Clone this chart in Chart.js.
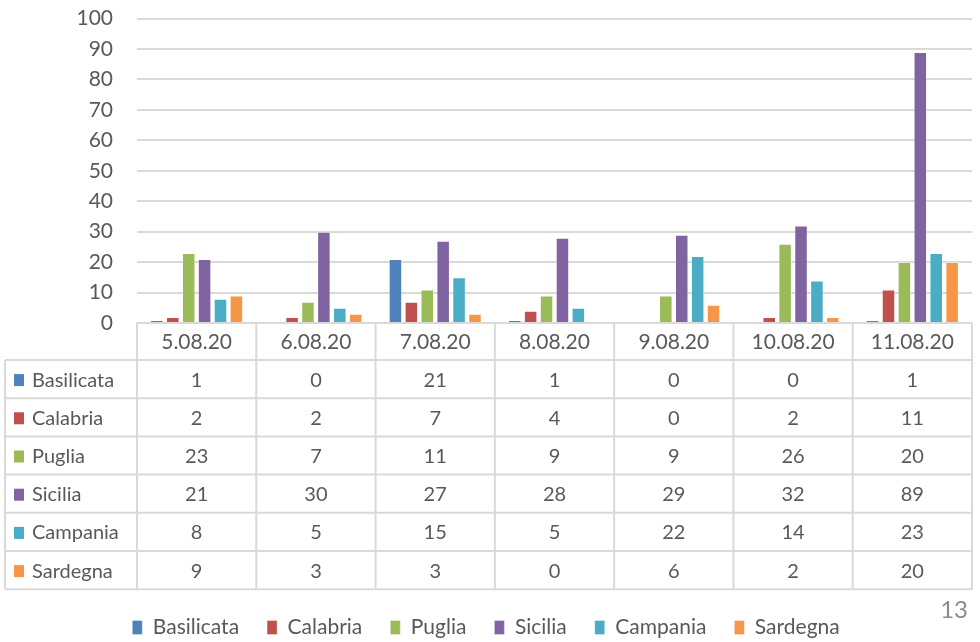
<!DOCTYPE html>
<html>
<head>
<meta charset="utf-8">
<script src="https://cdn.jsdelivr.net/npm/chart.js@4.4.1/dist/chart.umd.min.js"></script>
<style>
  html, body { margin: 0; padding: 0; background: #fff; }
  #wrap { position: relative; width: 980px; height: 642px; }
  #pageNum { position: absolute; right: 12px; top: 594px; font: 24px Lato, sans-serif; color: #8c8c8c; }
</style>
</head>
<body>
<div id="wrap">
  <canvas id="chart" width="980" height="642"></canvas>
  <div id="pageNum">13</div>
</div>
<script>
/* ===== DATA ===== */
const dates      = ['5.08.20', '6.08.20', '7.08.20', '8.08.20', '9.08.20', '10.08.20', '11.08.20'];
const regions    = ['Basilicata', 'Calabria', 'Puglia', 'Sicilia', 'Campania', 'Sardegna'];
const basilicata = [1, 0, 21, 1, 0, 0, 1];
const calabria   = [2, 2, 7, 4, 0, 2, 11];
const puglia     = [23, 7, 11, 9, 9, 26, 20];
const sicilia    = [21, 30, 27, 28, 29, 32, 89];
const campania   = [8, 5, 15, 5, 22, 14, 23];
const sardegna   = [9, 3, 3, 0, 6, 2, 20];
const colors     = ['#4F81BD', '#C0504D', '#9BBB59', '#8064A2', '#4BACC6', '#F79646'];

const series = [basilicata, calabria, puglia, sicilia, campania, sardegna];
const FONT = 'Lato, "Open Sans", sans-serif';
const TEXT = '#595959';
const LINE = '#D9D9D9';

/* ===== DATA TABLE UNDER THE AXIS ===== */
const tablePlugin = {
  id: 'dataTable',
  afterDraw(chart) {
    const { ctx, chartArea, scales: { x } } = chart;
    const top = chartArea.bottom;
    const headH = 37, rowH = 38.2;
    const left = 5, right = chartArea.right;
    const bottom = top + headH + rowH * regions.length;
    const colW = (chartArea.right - chartArea.left) / dates.length;

    ctx.save();
    ctx.strokeStyle = LINE;
    ctx.lineWidth = 2;
    ctx.beginPath();
    // horizontal lines
    ctx.moveTo(chartArea.left, top); ctx.lineTo(right, top);
    for (let r = 0; r <= regions.length; r++) {
      const y = top + headH + r * rowH;
      ctx.moveTo(left, y); ctx.lineTo(right, y);
    }
    // vertical lines
    ctx.moveTo(left, top + headH); ctx.lineTo(left, bottom);
    for (let c = 0; c <= dates.length; c++) {
      const xx = chartArea.left + c * colW;
      ctx.moveTo(xx, top); ctx.lineTo(xx, bottom);
    }
    ctx.stroke();

    ctx.fillStyle = TEXT;
    ctx.textBaseline = 'middle';
    ctx.textAlign = 'center';
    ctx.font = '21px ' + FONT;
    dates.forEach((d, i) => ctx.fillText(d, x.getPixelForValue(i), top + headH / 2 + 1));

    ctx.font = '20px ' + FONT;
    regions.forEach((name, r) => {
      const cy = top + headH + r * rowH + rowH / 2 + 1;
      ctx.fillStyle = colors[r];
      ctx.fillRect(14, cy - 6, 10, 12);
      ctx.fillStyle = TEXT;
      ctx.textAlign = 'left';
      ctx.fillText(name, 32, cy);
      ctx.textAlign = 'center';
      series[r].forEach((v, i) => ctx.fillText(String(v), x.getPixelForValue(i), cy));
    });
    ctx.restore();
  }
};

/* ===== CHART ===== */
new Chart(document.getElementById('chart'), {
  type: 'bar',
  data: {
    labels: dates,
    datasets: regions.map((name, i) => ({
      label: name,
      data: series[i],
      backgroundColor: colors[i],
      borderColor: 'rgba(255,255,255,0.35)',
      borderWidth: 1,
      barPercentage: 0.85,
      categoryPercentage: 0.8
    }))
  },
  options: {
    responsive: false,
    animation: false,
    layout: { padding: { top: 0, right: 8, left: 0, bottom: -6 } },
    plugins: {
      tooltip: { enabled: false },
      legend: {
        position: 'bottom',
        labels: {
          color: TEXT,
          font: { family: FONT, size: 21 },
          boxWidth: 10,
          boxHeight: 14,
          padding: 28
        }
      }
    },
    scales: {
      x: {
        grid: { display: false },
        border: { display: false },
        ticks: { display: false },
        afterFit: (scale) => { scale.height = 266; }
      },
      y: {
        min: 0,
        max: 100,
        ticks: { stepSize: 10, color: TEXT, font: { family: FONT, size: 21 }, padding: 6 },
        grid: { color: LINE, lineWidth: 2, drawTicks: true, tickLength: 18, tickColor: 'rgba(0,0,0,0)' },
        border: { display: false },
        afterFit: (scale) => { scale.width = 137; }
      }
    }
  },
  plugins: [tablePlugin]
});
</script>
</body>
</html>
